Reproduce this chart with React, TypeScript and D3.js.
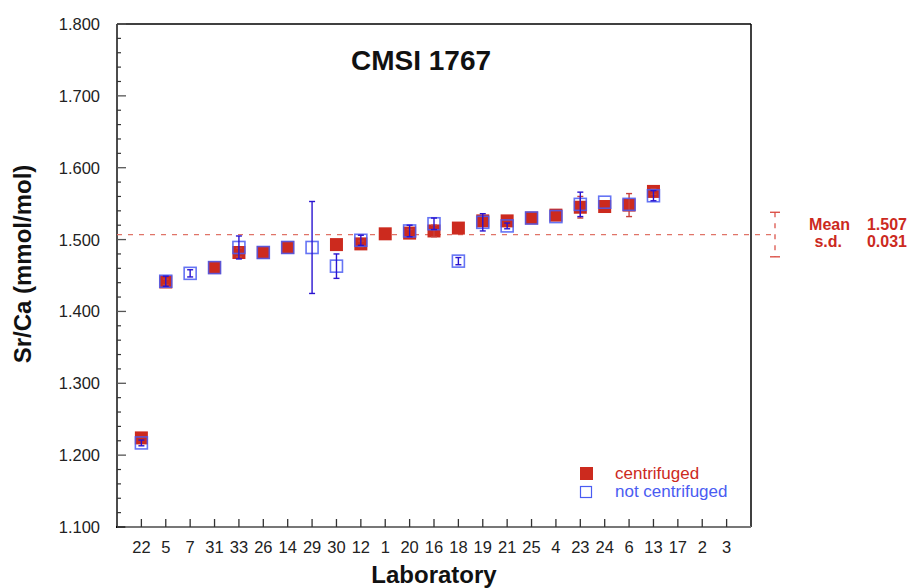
import * as d3 from "d3";

// laboratory order along the x axis
const labs = ["22", "5", "7", "31", "33", "26", "14", "29", "30", "12", "1", "20", "16", "18", "19", "21", "25", "4", "23", "24", "6", "13", "17", "2", "3"];

// [lab, Sr/Ca, error]
const centrifuged: [string, number, number][] = [
  ["22", 1.224, 0.002], ["5", 1.441, 0.004], ["31", 1.461, 0.002], ["33", 1.482, 0.006],
  ["26", 1.482, 0.002], ["14", 1.489, 0.002], ["30", 1.493, 0.002], ["12", 1.494, 0.004],
  ["1", 1.508, 0.002], ["20", 1.509, 0.005], ["16", 1.512, 0.008], ["18", 1.516, 0.002],
  ["19", 1.526, 0.003], ["21", 1.526, 0.003], ["25", 1.530, 0.002], ["4", 1.534, 0.002],
  ["23", 1.545, 0.015], ["24", 1.546, 0.003], ["6", 1.548, 0.016], ["13", 1.567, 0.004]
];

const notCentrifuged: [string, number, number][] = [
  ["22", 1.217, 0.004], ["5", 1.442, 0.007], ["7", 1.453, 0.005], ["31", 1.461, 0.002],
  ["33", 1.489, 0.016], ["26", 1.482, 0.002], ["14", 1.489, 0.002], ["29", 1.489, 0.064],
  ["30", 1.463, 0.017], ["12", 1.499, 0.007], ["20", 1.512, 0.008], ["16", 1.522, 0.008],
  ["18", 1.470, 0.005], ["19", 1.524, 0.012], ["21", 1.519, 0.004], ["25", 1.530, 0.002],
  ["4", 1.532, 0.003], ["23", 1.549, 0.017], ["24", 1.552, 0.003], ["6", 1.549, 0.003],
  ["13", 1.561, 0.007]
];

const yTicks = [1.1, 1.2, 1.3, 1.4, 1.5, 1.6, 1.7, 1.8];
const mean = 1.507;
const sd = 0.031;

const RED = "#cc2a1e";
const BLUE = "#4a5cf2";
const DARK_BLUE = "#2a14d0";
const FONT = "'Liberation Sans', Arial, Helvetica, sans-serif";

export default function App() {
  const width = 908;
  const height = 588;
  const left = 117;
  const right = 751;
  const top = 24;
  const bottom = 527;
  const x = d3.scalePoint(labs, [left, right]).padding(1);
  const y = d3.scaleLinear([1.1, 1.8], [bottom, top]);
  const minor = d3.range(1.1, 1.8001, 0.02).filter(v => !yTicks.some(t => Math.abs(t - v) < 1e-6));
  const my = y(mean);

  const errBar = (lab: string, v: number, e: number, color: string, key: string) => {
    const cx = x(lab) ?? 0;
    return (
      <g key={key} stroke={color} strokeWidth={1.4}>
        <line x1={cx} x2={cx} y1={y(v + e)} y2={y(v - e)} />
        <line x1={cx - 3} x2={cx + 3} y1={y(v + e)} y2={y(v + e)} />
        <line x1={cx - 3} x2={cx + 3} y1={y(v - e)} y2={y(v - e)} />
      </g>
    );
  };

  return (
    <svg width={width} height={height} viewBox={`0 0 ${width} ${height}`} style={{ position: "absolute", left: 0, top: 0, fontFamily: FONT }}>
      <rect width={width} height={height} fill="#fff" />

      {/* frame */}
      <line x1={left} x2={right} y1={top} y2={top} stroke="#000" strokeWidth={1.5} />
      <line x1={right} x2={right} y1={top} y2={bottom} stroke="#000" strokeWidth={1.5} />
      <line x1={left} x2={left} y1={top} y2={bottom} stroke="#111" strokeWidth={1.5} />
      <line x1={left} x2={right} y1={bottom} y2={bottom} stroke="#777" strokeWidth={2} />
      <line x1={left - 1} x2={left + 8} y1={bottom} y2={bottom} stroke="#000" strokeWidth={2} />

      {/* y ticks */}
      {yTicks.map(t => (
        <g key={t}>
          <line x1={left} x2={left + 9} y1={y(t)} y2={y(t)} stroke="#555" strokeWidth={1.3} />
          <text x={100} y={y(t) + 6} textAnchor="end" fontSize={16.5} fill="#222">{t.toFixed(3)}</text>
        </g>
      ))}
      {minor.map(t => (
        <line key={t} x1={left} x2={left + 4} y1={y(t)} y2={y(t)} stroke="#333" strokeWidth={1.2} />
      ))}

      {/* x ticks */}
      {labs.map(lab => (
        <g key={lab}>
          <line x1={x(lab)} x2={x(lab)} y1={bottom} y2={bottom - 8} stroke="#333" strokeWidth={1.3} />
          <text x={x(lab)} y={553} textAnchor="middle" fontSize={16.5} fill="#222">{lab}</text>
        </g>
      ))}

      {/* mean line and s.d. bar */}
      <line x1={left} x2={772} y1={my} y2={my} stroke="#e07468" strokeWidth={1.3} strokeDasharray="5,6" />
      <line x1={775} x2={775} y1={y(mean + sd)} y2={y(mean - sd)} stroke="#d9463c" strokeWidth={1.2} strokeDasharray="5,6" />
      <line x1={770} x2={780} y1={y(mean + sd)} y2={y(mean + sd)} stroke="#d9463c" strokeWidth={1.3} />
      <line x1={770} x2={780} y1={y(mean - sd)} y2={y(mean - sd)} stroke="#d9463c" strokeWidth={1.3} />
      <g fill={RED} fontSize={16} fontWeight="bold">
        <text x={850} y={230} textAnchor="end">Mean</text>
        <text x={907} y={230} textAnchor="end">{mean.toFixed(3)}</text>
        <text x={842} y={247} textAnchor="end">s.d.</text>
        <text x={907} y={247} textAnchor="end">{sd.toFixed(3)}</text>
      </g>

      {/* centrifuged */}
      {centrifuged.map(([lab, v]) => (
        <rect key={`c${lab}`} x={(x(lab) ?? 0) - 6.5} y={y(v) - 6.5} width={13} height={13} fill={RED} />
      ))}
      {centrifuged.filter(d => d[2] > 0.003).map(([lab, v, e]) => errBar(lab, v, e, "#c8403a", `ce${lab}`))}

      {/* not centrifuged */}
      {notCentrifuged.map(([lab, v]) => (
        <rect key={`n${lab}`} x={(x(lab) ?? 0) - 6} y={y(v) - 6} width={12} height={12} fill="none" stroke={BLUE} strokeWidth={1.6} strokeOpacity={0.85} />
      ))}
      {notCentrifuged.filter(d => d[2] > 0.003).map(([lab, v, e]) => errBar(lab, v, e, DARK_BLUE, `ne${lab}`))}

      {/* title */}
      <text x={421} y={70} textAnchor="middle" fontSize={28} fontWeight="bold" fill="#111">CMSI 1767</text>

      {/* legend */}
      <rect x={580} y={467} width={13} height={13} fill={RED} />
      <text x={615} y={479} fontSize={17} fill={RED}>centrifuged</text>
      <rect x={580.5} y={486.5} width={11} height={11} fill="none" stroke={BLUE} strokeWidth={1.2} />
      <text x={615} y={497} fontSize={17} fill={BLUE}>not centrifuged</text>

      {/* axis titles */}
      <text x={434} y={583} textAnchor="middle" fontSize={24} fontWeight="bold" fill="#111">Laboratory</text>
      <text transform={`translate(31,264) rotate(-90)`} textAnchor="middle" fontSize={24} fontWeight="bold" fill="#111">Sr/Ca (mmol/mol)</text>
    </svg>
  );
}
